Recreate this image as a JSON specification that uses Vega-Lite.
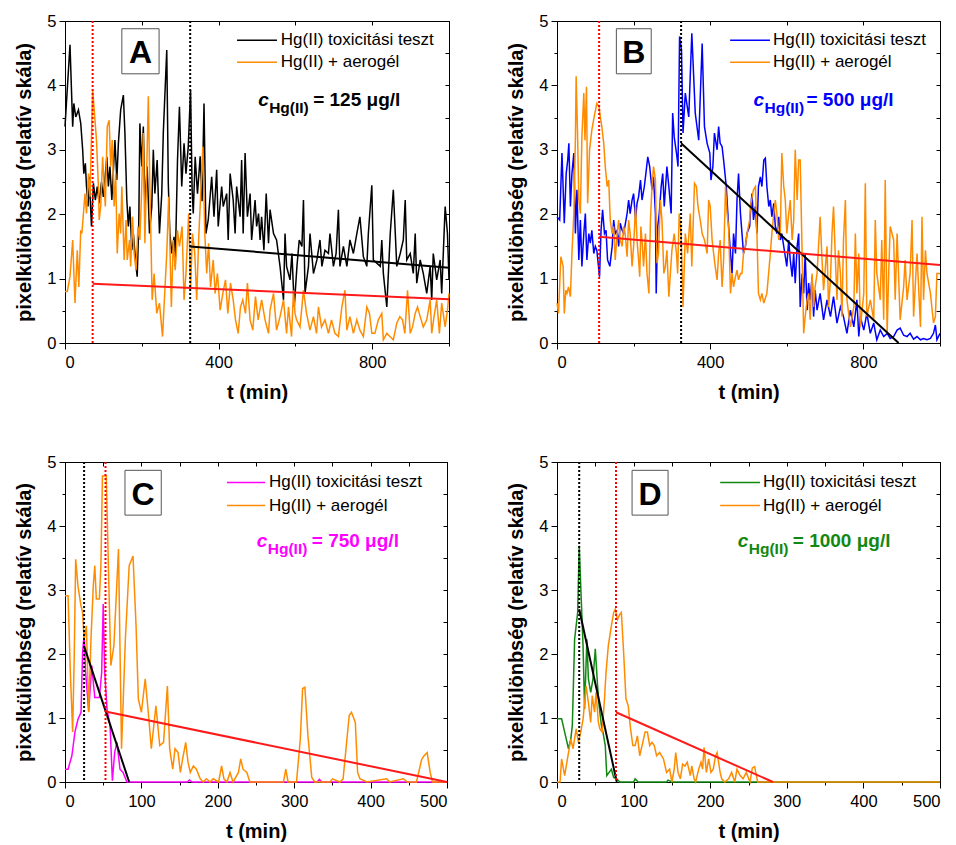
{
"$schema": "https://vega.github.io/schema/vega-lite/v6.json",
"padding": {"left": 14, "top": 12, "right": 0, "bottom": 0},
"background": "white",
"config": {
  "font": "Liberation Sans",
  "view": {"stroke": "black", "strokeWidth": 1},
  "axis": {"domainColor": "black", "tickColor": "black", "labelColor": "black", "titleColor": "black", "labelFont": "Liberation Sans", "labelFontSize": 16.5, "titleFont": "Liberation Sans", "titleFontSize": 20, "titleFontWeight": "bold", "grid": false, "labelPadding": 4},
  "axisX": {"titlePadding": 12, "labelPadding": 5},
  "axisY": {"titlePadding": 12, "labelPadding": 3},
  "text": {"font": "Liberation Sans"}
},
"columns": 2,
"spacing": {"row": 50, "column": 52},
"resolve": {"scale": {"color": "independent"}},
"datasets": {
"A": [
{"t":0,"v":3.36,"s":"a"},{"t":13,"v":4.63,"s":"a"},{"t":20,"v":3.36,"s":"a"},{"t":23,"v":3.72,"s":"a"},{"t":28,"v":3.51,"s":"a"},{"t":35,"v":3.62,"s":"a"},{"t":41,"v":3.41,"s":"a"},{"t":46,"v":3.0,"s":"a"},{"t":49,"v":2.63,"s":"a"},{"t":53,"v":2.79,"s":"a"},{"t":56,"v":2.43,"s":"a"},{"t":60,"v":2.12,"s":"a"},{"t":63,"v":2.58,"s":"a"},{"t":69,"v":1.81,"s":"a"},{"t":74,"v":2.48,"s":"a"},{"t":79,"v":2.22,"s":"a"},{"t":84,"v":2.43,"s":"a"},{"t":89,"v":2.17,"s":"a"},{"t":95,"v":2.5,"s":"a"},{"t":100,"v":2.27,"s":"a"},{"t":109,"v":2.89,"s":"a"},{"t":113,"v":2.43,"s":"a"},{"t":117,"v":2.74,"s":"a"},{"t":122,"v":2.22,"s":"a"},{"t":130,"v":3.15,"s":"a"},{"t":135,"v":2.53,"s":"a"},{"t":139,"v":3.1,"s":"a"},{"t":145,"v":3.62,"s":"a"},{"t":152,"v":3.85,"s":"a"},{"t":156,"v":3.26,"s":"a"},{"t":161,"v":2.22,"s":"a"},{"t":165,"v":1.81,"s":"a"},{"t":169,"v":2.12,"s":"a"},{"t":174,"v":1.44,"s":"a"},{"t":178,"v":1.7,"s":"a"},{"t":185,"v":1.19,"s":"a"},{"t":188,"v":1.03,"s":"a"},{"t":192,"v":1.81,"s":"a"},{"t":195,"v":3.41,"s":"a"},{"t":200,"v":2.74,"s":"a"},{"t":204,"v":3.36,"s":"a"},{"t":208,"v":2.12,"s":"a"},{"t":214,"v":2.74,"s":"a"},{"t":220,"v":1.7,"s":"a"},{"t":226,"v":2.12,"s":"a"},{"t":230,"v":3.0,"s":"a"},{"t":234,"v":2.32,"s":"a"},{"t":240,"v":2.84,"s":"a"},{"t":246,"v":1.7,"s":"a"},{"t":252,"v":2.32,"s":"a"},{"t":256,"v":3.26,"s":"a"},{"t":265,"v":4.55,"s":"a"},{"t":269,"v":2.48,"s":"a"},{"t":273,"v":1.7,"s":"a"},{"t":278,"v":1.39,"s":"a"},{"t":284,"v":1.65,"s":"a"},{"t":287,"v":1.19,"s":"a"},{"t":293,"v":2.84,"s":"a"},{"t":298,"v":3.67,"s":"a"},{"t":304,"v":2.43,"s":"a"},{"t":310,"v":3.1,"s":"a"},{"t":315,"v":2.63,"s":"a"},{"t":321,"v":3.05,"s":"a"},{"t":327,"v":3.93,"s":"a"},{"t":331,"v":2.38,"s":"a"},{"t":334,"v":2.01,"s":"a"},{"t":339,"v":2.89,"s":"a"},{"t":345,"v":2.32,"s":"a"},{"t":352,"v":2.9,"s":"a"},{"t":357,"v":2.2,"s":"a"},{"t":362,"v":3.72,"s":"a"},{"t":367,"v":1.7,"s":"a"},{"t":373,"v":1.91,"s":"a"},{"t":382,"v":2.58,"s":"a"},{"t":388,"v":1.96,"s":"a"},{"t":395,"v":2.69,"s":"a"},{"t":399,"v":1.81,"s":"a"},{"t":408,"v":2.43,"s":"a"},{"t":412,"v":2.12,"s":"a"},{"t":421,"v":2.32,"s":"a"},{"t":425,"v":1.6,"s":"a"},{"t":430,"v":2.63,"s":"a"},{"t":438,"v":2.22,"s":"a"},{"t":443,"v":1.7,"s":"a"},{"t":447,"v":2.43,"s":"a"},{"t":456,"v":1.96,"s":"a"},{"t":460,"v":2.84,"s":"a"},{"t":464,"v":1.7,"s":"a"},{"t":469,"v":2.95,"s":"a"},{"t":475,"v":1.96,"s":"a"},{"t":482,"v":2.32,"s":"a"},{"t":486,"v":1.6,"s":"a"},{"t":495,"v":2.22,"s":"a"},{"t":499,"v":1.81,"s":"a"},{"t":504,"v":2.01,"s":"a"},{"t":508,"v":1.6,"s":"a"},{"t":512,"v":1.96,"s":"a"},{"t":518,"v":1.44,"s":"a"},{"t":524,"v":2.32,"s":"a"},{"t":530,"v":1.55,"s":"a"},{"t":534,"v":2.07,"s":"a"},{"t":543,"v":1.7,"s":"a"},{"t":551,"v":1.6,"s":"a"},{"t":560,"v":1.19,"s":"a"},{"t":569,"v":0.67,"s":"a"},{"t":573,"v":1.7,"s":"a"},{"t":577,"v":1.19,"s":"a"},{"t":586,"v":0.98,"s":"a"},{"t":591,"v":1.39,"s":"a"},{"t":597,"v":0.56,"s":"a"},{"t":604,"v":1.19,"s":"a"},{"t":610,"v":1.6,"s":"a"},{"t":617,"v":1.5,"s":"a"},{"t":621,"v":2.22,"s":"a"},{"t":625,"v":0.77,"s":"a"},{"t":634,"v":1.19,"s":"a"},{"t":638,"v":1.7,"s":"a"},{"t":647,"v":1.08,"s":"a"},{"t":656,"v":1.29,"s":"a"},{"t":664,"v":1.6,"s":"a"},{"t":669,"v":1.19,"s":"a"},{"t":677,"v":1.44,"s":"a"},{"t":686,"v":1.39,"s":"a"},{"t":690,"v":1.7,"s":"a"},{"t":699,"v":1.19,"s":"a"},{"t":706,"v":1.39,"s":"a"},{"t":712,"v":2.07,"s":"a"},{"t":716,"v":1.19,"s":"a"},{"t":725,"v":1.5,"s":"a"},{"t":734,"v":1.19,"s":"a"},{"t":742,"v":1.6,"s":"a"},{"t":751,"v":1.39,"s":"a"},{"t":760,"v":1.7,"s":"a"},{"t":768,"v":1.96,"s":"a"},{"t":777,"v":1.34,"s":"a"},{"t":786,"v":1.19,"s":"a"},{"t":790,"v":1.7,"s":"a"},{"t":799,"v":2.45,"s":"a"},{"t":803,"v":1.29,"s":"a"},{"t":812,"v":1.24,"s":"a"},{"t":821,"v":1.19,"s":"a"},{"t":825,"v":1.6,"s":"a"},{"t":829,"v":1.08,"s":"a"},{"t":838,"v":0.56,"s":"a"},{"t":847,"v":1.7,"s":"a"},{"t":855,"v":2.38,"s":"a"},{"t":864,"v":1.19,"s":"a"},{"t":873,"v":1.39,"s":"a"},{"t":881,"v":1.6,"s":"a"},{"t":886,"v":2.22,"s":"a"},{"t":890,"v":1.29,"s":"a"},{"t":899,"v":1.39,"s":"a"},{"t":907,"v":1.08,"s":"a"},{"t":912,"v":1.7,"s":"a"},{"t":916,"v":0.93,"s":"a"},{"t":925,"v":1.29,"s":"a"},{"t":933,"v":1.08,"s":"a"},{"t":942,"v":0.77,"s":"a"},{"t":951,"v":1.19,"s":"a"},{"t":955,"v":0.67,"s":"a"},{"t":959,"v":1.39,"s":"a"},{"t":968,"v":0.98,"s":"a"},{"t":977,"v":1.29,"s":"a"},{"t":981,"v":0.77,"s":"a"},{"t":990,"v":2.12,"s":"a"},{"t":996,"v":1.7,"s":"a"},{"t":1000,"v":0.98,"s":"a"},
{"t":0,"v":0.8,"s":"b"},{"t":6,"v":0.8,"s":"b"},{"t":13,"v":1.03,"s":"b"},{"t":20,"v":1.6,"s":"b"},{"t":26,"v":0.62,"s":"b"},{"t":32,"v":1.44,"s":"b"},{"t":36,"v":0.87,"s":"b"},{"t":41,"v":1.75,"s":"b"},{"t":44,"v":1.7,"s":"b"},{"t":52,"v":2.32,"s":"b"},{"t":56,"v":2.01,"s":"b"},{"t":61,"v":2.63,"s":"b"},{"t":65,"v":2.27,"s":"b"},{"t":72,"v":3.93,"s":"b"},{"t":76,"v":3.62,"s":"b"},{"t":82,"v":3.15,"s":"b"},{"t":87,"v":2.43,"s":"b"},{"t":89,"v":1.91,"s":"b"},{"t":93,"v":2.12,"s":"b"},{"t":98,"v":2.89,"s":"b"},{"t":102,"v":2.43,"s":"b"},{"t":105,"v":2.12,"s":"b"},{"t":110,"v":3.36,"s":"b"},{"t":115,"v":3.46,"s":"b"},{"t":119,"v":2.74,"s":"b"},{"t":123,"v":3.15,"s":"b"},{"t":128,"v":2.12,"s":"b"},{"t":132,"v":2.63,"s":"b"},{"t":136,"v":1.39,"s":"b"},{"t":141,"v":2.01,"s":"b"},{"t":145,"v":1.7,"s":"b"},{"t":148,"v":2.43,"s":"b"},{"t":154,"v":1.29,"s":"b"},{"t":159,"v":1.91,"s":"b"},{"t":162,"v":1.29,"s":"b"},{"t":168,"v":1.6,"s":"b"},{"t":171,"v":1.19,"s":"b"},{"t":176,"v":1.96,"s":"b"},{"t":180,"v":1.39,"s":"b"},{"t":185,"v":1.13,"s":"b"},{"t":190,"v":1.81,"s":"b"},{"t":195,"v":1.6,"s":"b"},{"t":199,"v":2.27,"s":"b"},{"t":204,"v":3.26,"s":"b"},{"t":208,"v":1.55,"s":"b"},{"t":213,"v":2.74,"s":"b"},{"t":217,"v":3.83,"s":"b"},{"t":221,"v":2.43,"s":"b"},{"t":227,"v":0.67,"s":"b"},{"t":232,"v":1.08,"s":"b"},{"t":239,"v":0.46,"s":"b"},{"t":246,"v":0.62,"s":"b"},{"t":254,"v":0.1,"s":"b"},{"t":260,"v":0.82,"s":"b"},{"t":265,"v":1.39,"s":"b"},{"t":270,"v":2.27,"s":"b"},{"t":277,"v":0.56,"s":"b"},{"t":282,"v":1.6,"s":"b"},{"t":287,"v":1.13,"s":"b"},{"t":293,"v":1.75,"s":"b"},{"t":298,"v":1.5,"s":"b"},{"t":305,"v":1.81,"s":"b"},{"t":310,"v":0.67,"s":"b"},{"t":315,"v":1.08,"s":"b"},{"t":322,"v":2.01,"s":"b"},{"t":327,"v":0.87,"s":"b"},{"t":332,"v":1.7,"s":"b"},{"t":338,"v":1.39,"s":"b"},{"t":343,"v":0.67,"s":"b"},{"t":348,"v":1.6,"s":"b"},{"t":359,"v":3.05,"s":"b"},{"t":364,"v":1.7,"s":"b"},{"t":369,"v":1.08,"s":"b"},{"t":374,"v":1.55,"s":"b"},{"t":379,"v":0.87,"s":"b"},{"t":386,"v":1.29,"s":"b"},{"t":391,"v":0.77,"s":"b"},{"t":397,"v":1.08,"s":"b"},{"t":404,"v":0.51,"s":"b"},{"t":411,"v":0.77,"s":"b"},{"t":418,"v":0.98,"s":"b"},{"t":424,"v":0.46,"s":"b"},{"t":431,"v":0.93,"s":"b"},{"t":438,"v":0.67,"s":"b"},{"t":444,"v":0.36,"s":"b"},{"t":451,"v":0.15,"s":"b"},{"t":457,"v":0.56,"s":"b"},{"t":463,"v":0.67,"s":"b"},{"t":470,"v":0.46,"s":"b"},{"t":475,"v":0.93,"s":"b"},{"t":482,"v":0.36,"s":"b"},{"t":489,"v":0.2,"s":"b"},{"t":496,"v":0.72,"s":"b"},{"t":503,"v":0.36,"s":"b"},{"t":512,"v":0.67,"s":"b"},{"t":521,"v":0.36,"s":"b"},{"t":530,"v":0.15,"s":"b"},{"t":534,"v":0.51,"s":"b"},{"t":543,"v":0.77,"s":"b"},{"t":551,"v":0.2,"s":"b"},{"t":560,"v":0.41,"s":"b"},{"t":569,"v":0.67,"s":"b"},{"t":577,"v":0.15,"s":"b"},{"t":582,"v":0.56,"s":"b"},{"t":590,"v":0.1,"s":"b"},{"t":595,"v":0.82,"s":"b"},{"t":599,"v":0.46,"s":"b"},{"t":603,"v":0.36,"s":"b"},{"t":612,"v":0.25,"s":"b"},{"t":621,"v":0.82,"s":"b"},{"t":629,"v":0.46,"s":"b"},{"t":638,"v":0.2,"s":"b"},{"t":647,"v":0.41,"s":"b"},{"t":655,"v":0.15,"s":"b"},{"t":660,"v":0.56,"s":"b"},{"t":668,"v":0.25,"s":"b"},{"t":677,"v":0.36,"s":"b"},{"t":686,"v":0.15,"s":"b"},{"t":694,"v":0.36,"s":"b"},{"t":703,"v":0.15,"s":"b"},{"t":712,"v":0.1,"s":"b"},{"t":721,"v":0.56,"s":"b"},{"t":729,"v":0.82,"s":"b"},{"t":734,"v":0.2,"s":"b"},{"t":742,"v":0.41,"s":"b"},{"t":751,"v":0.15,"s":"b"},{"t":760,"v":0.36,"s":"b"},{"t":768,"v":0.2,"s":"b"},{"t":777,"v":0.1,"s":"b"},{"t":786,"v":0.56,"s":"b"},{"t":793,"v":0.46,"s":"b"},{"t":799,"v":0.15,"s":"b"},{"t":807,"v":0.15,"s":"b"},{"t":816,"v":0.36,"s":"b"},{"t":825,"v":0.46,"s":"b"},{"t":829,"v":0.05,"s":"b"},{"t":838,"v":0.15,"s":"b"},{"t":846,"v":0.1,"s":"b"},{"t":855,"v":0.05,"s":"b"},{"t":864,"v":0.31,"s":"b"},{"t":872,"v":0.41,"s":"b"},{"t":879,"v":0.36,"s":"b"},{"t":885,"v":0.15,"s":"b"},{"t":892,"v":0.82,"s":"b"},{"t":899,"v":0.15,"s":"b"},{"t":905,"v":0.25,"s":"b"},{"t":912,"v":0.46,"s":"b"},{"t":918,"v":0.56,"s":"b"},{"t":925,"v":0.41,"s":"b"},{"t":933,"v":0.25,"s":"b"},{"t":942,"v":0.36,"s":"b"},{"t":951,"v":0.67,"s":"b"},{"t":955,"v":0.15,"s":"b"},{"t":961,"v":0.41,"s":"b"},{"t":968,"v":0.67,"s":"b"},{"t":975,"v":0.15,"s":"b"},{"t":981,"v":0.62,"s":"b"},{"t":990,"v":0.25,"s":"b"},{"t":996,"v":0.51,"s":"b"},{"t":1000,"v":0.77,"s":"b"}
],
"B": [
{"t":0,"v":1.96,"s":"a"},{"t":7,"v":1.91,"s":"a"},{"t":13,"v":2.95,"s":"a"},{"t":19,"v":1.86,"s":"a"},{"t":24,"v":2.63,"s":"a"},{"t":28,"v":2.84,"s":"a"},{"t":31,"v":3.1,"s":"a"},{"t":35,"v":2.12,"s":"a"},{"t":39,"v":2.63,"s":"a"},{"t":44,"v":2.95,"s":"a"},{"t":48,"v":1.7,"s":"a"},{"t":52,"v":2.38,"s":"a"},{"t":57,"v":1.29,"s":"a"},{"t":61,"v":1.91,"s":"a"},{"t":65,"v":1.19,"s":"a"},{"t":70,"v":1.7,"s":"a"},{"t":74,"v":2.01,"s":"a"},{"t":78,"v":1.29,"s":"a"},{"t":83,"v":1.7,"s":"a"},{"t":87,"v":1.55,"s":"a"},{"t":91,"v":1.75,"s":"a"},{"t":96,"v":1.39,"s":"a"},{"t":100,"v":1.5,"s":"a"},{"t":104,"v":1.44,"s":"a"},{"t":111,"v":1.03,"s":"a"},{"t":115,"v":1.75,"s":"a"},{"t":119,"v":2.07,"s":"a"},{"t":124,"v":1.7,"s":"a"},{"t":128,"v":1.75,"s":"a"},{"t":132,"v":1.29,"s":"a"},{"t":138,"v":1.19,"s":"a"},{"t":144,"v":1.5,"s":"a"},{"t":148,"v":1.91,"s":"a"},{"t":152,"v":1.7,"s":"a"},{"t":157,"v":1.75,"s":"a"},{"t":161,"v":1.5,"s":"a"},{"t":165,"v":1.86,"s":"a"},{"t":170,"v":1.75,"s":"a"},{"t":174,"v":1.7,"s":"a"},{"t":183,"v":2.01,"s":"a"},{"t":187,"v":2.22,"s":"a"},{"t":191,"v":2.01,"s":"a"},{"t":196,"v":2.22,"s":"a"},{"t":200,"v":2.32,"s":"a"},{"t":205,"v":1.91,"s":"a"},{"t":209,"v":2.17,"s":"a"},{"t":213,"v":2.27,"s":"a"},{"t":218,"v":2.53,"s":"a"},{"t":222,"v":2.22,"s":"a"},{"t":228,"v":2.43,"s":"a"},{"t":232,"v":2.63,"s":"a"},{"t":237,"v":2.89,"s":"a"},{"t":242,"v":2.74,"s":"a"},{"t":248,"v":2.38,"s":"a"},{"t":252,"v":2.58,"s":"a"},{"t":257,"v":2.01,"s":"a"},{"t":259,"v":0.77,"s":"a"},{"t":263,"v":1.81,"s":"a"},{"t":267,"v":2.01,"s":"a"},{"t":272,"v":2.43,"s":"a"},{"t":276,"v":2.63,"s":"a"},{"t":280,"v":2.12,"s":"a"},{"t":287,"v":2.74,"s":"a"},{"t":292,"v":2.43,"s":"a"},{"t":298,"v":2.01,"s":"a"},{"t":302,"v":3.57,"s":"a"},{"t":306,"v":3.2,"s":"a"},{"t":312,"v":2.95,"s":"a"},{"t":316,"v":2.74,"s":"a"},{"t":320,"v":4.76,"s":"a"},{"t":325,"v":4.55,"s":"a"},{"t":329,"v":3.26,"s":"a"},{"t":335,"v":3.88,"s":"a"},{"t":344,"v":3.51,"s":"a"},{"t":352,"v":4.81,"s":"a"},{"t":361,"v":3.57,"s":"a"},{"t":370,"v":3.15,"s":"a"},{"t":379,"v":4.65,"s":"a"},{"t":385,"v":3.36,"s":"a"},{"t":392,"v":3.1,"s":"a"},{"t":399,"v":2.95,"s":"a"},{"t":402,"v":2.53,"s":"a"},{"t":407,"v":2.74,"s":"a"},{"t":411,"v":3.26,"s":"a"},{"t":418,"v":3.0,"s":"a"},{"t":422,"v":3.36,"s":"a"},{"t":426,"v":3.1,"s":"a"},{"t":431,"v":3.05,"s":"a"},{"t":435,"v":2.84,"s":"a"},{"t":442,"v":2.43,"s":"a"},{"t":448,"v":1.81,"s":"a"},{"t":453,"v":1.39,"s":"a"},{"t":457,"v":1.08,"s":"a"},{"t":461,"v":1.7,"s":"a"},{"t":466,"v":1.39,"s":"a"},{"t":470,"v":2.22,"s":"a"},{"t":474,"v":2.63,"s":"a"},{"t":479,"v":2.01,"s":"a"},{"t":483,"v":1.7,"s":"a"},{"t":487,"v":1.39,"s":"a"},{"t":492,"v":1.5,"s":"a"},{"t":496,"v":1.7,"s":"a"},{"t":503,"v":1.81,"s":"a"},{"t":505,"v":2.01,"s":"a"},{"t":509,"v":2.32,"s":"a"},{"t":513,"v":1.91,"s":"a"},{"t":518,"v":2.12,"s":"a"},{"t":522,"v":1.7,"s":"a"},{"t":526,"v":2.43,"s":"a"},{"t":531,"v":2.58,"s":"a"},{"t":535,"v":2.43,"s":"a"},{"t":540,"v":2.84,"s":"a"},{"t":544,"v":2.87,"s":"a"},{"t":548,"v":2.43,"s":"a"},{"t":553,"v":2.12,"s":"a"},{"t":557,"v":2.22,"s":"a"},{"t":561,"v":1.96,"s":"a"},{"t":566,"v":2.17,"s":"a"},{"t":570,"v":1.81,"s":"a"},{"t":574,"v":1.7,"s":"a"},{"t":579,"v":1.96,"s":"a"},{"t":583,"v":1.6,"s":"a"},{"t":587,"v":1.7,"s":"a"},{"t":592,"v":1.5,"s":"a"},{"t":600,"v":1.19,"s":"a"},{"t":605,"v":1.6,"s":"a"},{"t":609,"v":1.29,"s":"a"},{"t":614,"v":1.03,"s":"a"},{"t":618,"v":1.39,"s":"a"},{"t":622,"v":0.93,"s":"a"},{"t":627,"v":1.5,"s":"a"},{"t":631,"v":1.7,"s":"a"},{"t":635,"v":0.56,"s":"a"},{"t":640,"v":1.08,"s":"a"},{"t":644,"v":0.77,"s":"a"},{"t":648,"v":1.39,"s":"a"},{"t":653,"v":0.51,"s":"a"},{"t":657,"v":0.93,"s":"a"},{"t":661,"v":0.67,"s":"a"},{"t":666,"v":1.03,"s":"a"},{"t":670,"v":0.41,"s":"a"},{"t":674,"v":0.82,"s":"a"},{"t":679,"v":0.51,"s":"a"},{"t":687,"v":0.77,"s":"a"},{"t":696,"v":0.36,"s":"a"},{"t":705,"v":0.67,"s":"a"},{"t":714,"v":0.41,"s":"a"},{"t":722,"v":0.72,"s":"a"},{"t":731,"v":0.31,"s":"a"},{"t":740,"v":0.56,"s":"a"},{"t":748,"v":0.41,"s":"a"},{"t":757,"v":0.15,"s":"a"},{"t":766,"v":0.51,"s":"a"},{"t":775,"v":0.25,"s":"a"},{"t":783,"v":0.67,"s":"a"},{"t":788,"v":0.1,"s":"a"},{"t":792,"v":0.41,"s":"a"},{"t":801,"v":0.2,"s":"a"},{"t":809,"v":0.46,"s":"a"},{"t":818,"v":0.15,"s":"a"},{"t":827,"v":0.31,"s":"a"},{"t":835,"v":0.05,"s":"a"},{"t":844,"v":0.2,"s":"a"},{"t":853,"v":0.1,"s":"a"},{"t":862,"v":0.15,"s":"a"},{"t":870,"v":0.07,"s":"a"},{"t":879,"v":0.1,"s":"a"},{"t":888,"v":0.2,"s":"a"},{"t":896,"v":0.23,"s":"a"},{"t":905,"v":0.12,"s":"a"},{"t":914,"v":0.1,"s":"a"},{"t":922,"v":0.15,"s":"a"},{"t":931,"v":0.06,"s":"a"},{"t":940,"v":0.1,"s":"a"},{"t":949,"v":0.05,"s":"a"},{"t":957,"v":0.07,"s":"a"},{"t":966,"v":0.05,"s":"a"},{"t":975,"v":0.07,"s":"a"},{"t":983,"v":0.15,"s":"a"},{"t":988,"v":0.28,"s":"a"},{"t":992,"v":0.05,"s":"a"},{"t":1000,"v":0.15,"s":"a"},
{"t":0,"v":0.62,"s":"b"},{"t":4,"v":0.46,"s":"b"},{"t":10,"v":1.34,"s":"b"},{"t":16,"v":1.19,"s":"b"},{"t":19,"v":0.46,"s":"b"},{"t":23,"v":0.82,"s":"b"},{"t":26,"v":0.77,"s":"b"},{"t":30,"v":0.87,"s":"b"},{"t":35,"v":0.72,"s":"b"},{"t":39,"v":1.39,"s":"b"},{"t":44,"v":2.01,"s":"b"},{"t":48,"v":3.15,"s":"b"},{"t":50,"v":4.14,"s":"b"},{"t":54,"v":3.15,"s":"b"},{"t":57,"v":2.22,"s":"b"},{"t":61,"v":2.01,"s":"b"},{"t":65,"v":3.2,"s":"b"},{"t":70,"v":3.88,"s":"b"},{"t":73,"v":3.15,"s":"b"},{"t":77,"v":3.98,"s":"b"},{"t":80,"v":2.17,"s":"b"},{"t":85,"v":3.0,"s":"b"},{"t":91,"v":3.31,"s":"b"},{"t":97,"v":3.51,"s":"b"},{"t":104,"v":3.72,"s":"b"},{"t":110,"v":3.67,"s":"b"},{"t":113,"v":3.51,"s":"b"},{"t":117,"v":3.36,"s":"b"},{"t":122,"v":3.1,"s":"b"},{"t":126,"v":2.74,"s":"b"},{"t":131,"v":2.43,"s":"b"},{"t":135,"v":2.53,"s":"b"},{"t":139,"v":1.91,"s":"b"},{"t":144,"v":1.7,"s":"b"},{"t":148,"v":1.81,"s":"b"},{"t":152,"v":1.29,"s":"b"},{"t":157,"v":1.7,"s":"b"},{"t":161,"v":1.91,"s":"b"},{"t":165,"v":1.6,"s":"b"},{"t":170,"v":1.5,"s":"b"},{"t":174,"v":1.81,"s":"b"},{"t":178,"v":1.7,"s":"b"},{"t":183,"v":1.34,"s":"b"},{"t":187,"v":1.91,"s":"b"},{"t":191,"v":1.7,"s":"b"},{"t":196,"v":1.19,"s":"b"},{"t":200,"v":1.5,"s":"b"},{"t":205,"v":2.12,"s":"b"},{"t":209,"v":1.6,"s":"b"},{"t":213,"v":1.29,"s":"b"},{"t":216,"v":1.03,"s":"b"},{"t":219,"v":1.81,"s":"b"},{"t":223,"v":1.5,"s":"b"},{"t":226,"v":1.19,"s":"b"},{"t":231,"v":1.7,"s":"b"},{"t":235,"v":1.08,"s":"b"},{"t":240,"v":0.77,"s":"b"},{"t":244,"v":1.91,"s":"b"},{"t":248,"v":2.43,"s":"b"},{"t":252,"v":2.74,"s":"b"},{"t":257,"v":2.53,"s":"b"},{"t":261,"v":1.24,"s":"b"},{"t":265,"v":1.39,"s":"b"},{"t":270,"v":2.22,"s":"b"},{"t":274,"v":1.91,"s":"b"},{"t":279,"v":1.08,"s":"b"},{"t":283,"v":1.19,"s":"b"},{"t":287,"v":1.44,"s":"b"},{"t":292,"v":0.72,"s":"b"},{"t":296,"v":1.08,"s":"b"},{"t":300,"v":1.44,"s":"b"},{"t":306,"v":1.7,"s":"b"},{"t":312,"v":1.39,"s":"b"},{"t":315,"v":1.08,"s":"b"},{"t":319,"v":2.01,"s":"b"},{"t":324,"v":1.7,"s":"b"},{"t":329,"v":0.56,"s":"b"},{"t":335,"v":1.7,"s":"b"},{"t":341,"v":1.39,"s":"b"},{"t":348,"v":2.01,"s":"b"},{"t":352,"v":1.19,"s":"b"},{"t":359,"v":2.48,"s":"b"},{"t":364,"v":2.43,"s":"b"},{"t":368,"v":2.12,"s":"b"},{"t":374,"v":1.91,"s":"b"},{"t":379,"v":1.7,"s":"b"},{"t":385,"v":1.6,"s":"b"},{"t":392,"v":1.39,"s":"b"},{"t":396,"v":2.22,"s":"b"},{"t":400,"v":2.12,"s":"b"},{"t":405,"v":1.6,"s":"b"},{"t":409,"v":1.39,"s":"b"},{"t":413,"v":1.19,"s":"b"},{"t":418,"v":0.98,"s":"b"},{"t":422,"v":1.39,"s":"b"},{"t":426,"v":1.6,"s":"b"},{"t":431,"v":0.87,"s":"b"},{"t":435,"v":1.29,"s":"b"},{"t":440,"v":2.43,"s":"b"},{"t":444,"v":2.01,"s":"b"},{"t":448,"v":1.81,"s":"b"},{"t":453,"v":0.77,"s":"b"},{"t":457,"v":1.08,"s":"b"},{"t":461,"v":0.87,"s":"b"},{"t":466,"v":1.03,"s":"b"},{"t":470,"v":1.13,"s":"b"},{"t":474,"v":0.98,"s":"b"},{"t":479,"v":1.08,"s":"b"},{"t":483,"v":1.08,"s":"b"},{"t":487,"v":1.39,"s":"b"},{"t":492,"v":1.5,"s":"b"},{"t":496,"v":1.7,"s":"b"},{"t":503,"v":1.91,"s":"b"},{"t":505,"v":2.12,"s":"b"},{"t":513,"v":2.38,"s":"b"},{"t":518,"v":2.43,"s":"b"},{"t":522,"v":1.7,"s":"b"},{"t":526,"v":0.77,"s":"b"},{"t":531,"v":0.67,"s":"b"},{"t":535,"v":0.77,"s":"b"},{"t":540,"v":0.62,"s":"b"},{"t":548,"v":0.77,"s":"b"},{"t":557,"v":1.39,"s":"b"},{"t":561,"v":1.7,"s":"b"},{"t":566,"v":2.01,"s":"b"},{"t":570,"v":2.22,"s":"b"},{"t":574,"v":2.01,"s":"b"},{"t":579,"v":1.6,"s":"b"},{"t":583,"v":1.7,"s":"b"},{"t":587,"v":2.95,"s":"b"},{"t":592,"v":2.43,"s":"b"},{"t":596,"v":2.22,"s":"b"},{"t":600,"v":1.7,"s":"b"},{"t":605,"v":2.01,"s":"b"},{"t":609,"v":2.22,"s":"b"},{"t":614,"v":1.6,"s":"b"},{"t":618,"v":1.91,"s":"b"},{"t":622,"v":3.0,"s":"b"},{"t":627,"v":2.22,"s":"b"},{"t":631,"v":2.84,"s":"b"},{"t":635,"v":2.84,"s":"b"},{"t":640,"v":1.39,"s":"b"},{"t":644,"v":0.15,"s":"b"},{"t":648,"v":0.41,"s":"b"},{"t":653,"v":0.67,"s":"b"},{"t":657,"v":0.77,"s":"b"},{"t":661,"v":0.36,"s":"b"},{"t":666,"v":1.08,"s":"b"},{"t":670,"v":0.56,"s":"b"},{"t":674,"v":0.87,"s":"b"},{"t":679,"v":1.08,"s":"b"},{"t":687,"v":1.96,"s":"b"},{"t":692,"v":1.29,"s":"b"},{"t":696,"v":0.82,"s":"b"},{"t":701,"v":1.19,"s":"b"},{"t":705,"v":1.5,"s":"b"},{"t":709,"v":0.56,"s":"b"},{"t":714,"v":0.98,"s":"b"},{"t":718,"v":1.7,"s":"b"},{"t":722,"v":2.12,"s":"b"},{"t":727,"v":1.29,"s":"b"},{"t":731,"v":0.67,"s":"b"},{"t":735,"v":1.44,"s":"b"},{"t":740,"v":1.08,"s":"b"},{"t":744,"v":0.41,"s":"b"},{"t":748,"v":1.6,"s":"b"},{"t":753,"v":2.22,"s":"b"},{"t":757,"v":0.67,"s":"b"},{"t":766,"v":0.25,"s":"b"},{"t":775,"v":0.56,"s":"b"},{"t":779,"v":1.7,"s":"b"},{"t":783,"v":0.77,"s":"b"},{"t":788,"v":1.39,"s":"b"},{"t":792,"v":0.25,"s":"b"},{"t":801,"v":0.77,"s":"b"},{"t":805,"v":2.48,"s":"b"},{"t":809,"v":0.41,"s":"b"},{"t":818,"v":0.67,"s":"b"},{"t":827,"v":0.36,"s":"b"},{"t":831,"v":1.91,"s":"b"},{"t":835,"v":1.08,"s":"b"},{"t":844,"v":0.67,"s":"b"},{"t":848,"v":1.6,"s":"b"},{"t":853,"v":0.36,"s":"b"},{"t":857,"v":2.53,"s":"b"},{"t":862,"v":0.15,"s":"b"},{"t":866,"v":1.08,"s":"b"},{"t":870,"v":1.81,"s":"b"},{"t":879,"v":1.6,"s":"b"},{"t":883,"v":0.67,"s":"b"},{"t":888,"v":1.7,"s":"b"},{"t":896,"v":0.36,"s":"b"},{"t":905,"v":0.87,"s":"b"},{"t":909,"v":1.29,"s":"b"},{"t":914,"v":0.67,"s":"b"},{"t":922,"v":1.08,"s":"b"},{"t":927,"v":1.91,"s":"b"},{"t":931,"v":0.41,"s":"b"},{"t":940,"v":1.39,"s":"b"},{"t":949,"v":0.25,"s":"b"},{"t":953,"v":1.96,"s":"b"},{"t":957,"v":0.67,"s":"b"},{"t":962,"v":1.44,"s":"b"},{"t":966,"v":1.08,"s":"b"},{"t":975,"v":0.77,"s":"b"},{"t":983,"v":0.31,"s":"b"},{"t":988,"v":0.41,"s":"b"},{"t":992,"v":1.08,"s":"b"},{"t":1000,"v":1.08,"s":"b"}
],
"C": [
{"t":0,"v":0.2,"s":"a"},{"t":4,"v":0.2,"s":"a"},{"t":9,"v":0.41,"s":"a"},{"t":13,"v":0.78,"s":"a"},{"t":17,"v":0.98,"s":"a"},{"t":21,"v":1.09,"s":"a"},{"t":23,"v":2.02,"s":"a"},{"t":25,"v":2.3,"s":"a"},{"t":27,"v":1.71,"s":"a"},{"t":31,"v":1.11,"s":"a"},{"t":35,"v":1.82,"s":"a"},{"t":39,"v":1.32,"s":"a"},{"t":45,"v":1.32,"s":"a"},{"t":48,"v":1.71,"s":"a"},{"t":50,"v":2.78,"s":"a"},{"t":52,"v":1.71,"s":"a"},{"t":55,"v":1.14,"s":"a"},{"t":59,"v":0.88,"s":"a"},{"t":62,"v":0.02,"s":"a"},{"t":65,"v":0.46,"s":"a"},{"t":68,"v":0.62,"s":"a"},{"t":72,"v":0.2,"s":"a"},{"t":76,"v":0.15,"s":"a"},{"t":81,"v":0,"s":"a"},{"t":160,"v":0,"s":"a"},{"t":163,"v":0.03,"s":"a"},{"t":166,"v":0,"s":"a"},{"t":330,"v":0,"s":"a"},{"t":333,"v":0.04,"s":"a"},{"t":336,"v":0,"s":"a"},{"t":500,"v":0,"s":"a"},
{"t":0,"v":2.91,"s":"b"},{"t":4,"v":2.91,"s":"b"},{"t":7,"v":1.71,"s":"b"},{"t":10,"v":0.78,"s":"b"},{"t":12,"v":1.92,"s":"b"},{"t":14,"v":3.48,"s":"b"},{"t":17,"v":3.06,"s":"b"},{"t":21,"v":2.75,"s":"b"},{"t":23,"v":2.65,"s":"b"},{"t":25,"v":2.23,"s":"b"},{"t":28,"v":2.44,"s":"b"},{"t":31,"v":1.09,"s":"b"},{"t":34,"v":2.23,"s":"b"},{"t":37,"v":3.06,"s":"b"},{"t":39,"v":3.38,"s":"b"},{"t":41,"v":2.86,"s":"b"},{"t":45,"v":2.86,"s":"b"},{"t":47,"v":3.38,"s":"b"},{"t":49,"v":4.78,"s":"b"},{"t":54,"v":4.78,"s":"b"},{"t":57,"v":3.27,"s":"b"},{"t":60,"v":1.82,"s":"b"},{"t":64,"v":2.13,"s":"b"},{"t":70,"v":3.64,"s":"b"},{"t":74,"v":0.52,"s":"b"},{"t":79,"v":2.23,"s":"b"},{"t":84,"v":3.38,"s":"b"},{"t":89,"v":3.53,"s":"b"},{"t":93,"v":2.44,"s":"b"},{"t":96,"v":1.3,"s":"b"},{"t":100,"v":1.09,"s":"b"},{"t":105,"v":1.61,"s":"b"},{"t":109,"v":1.09,"s":"b"},{"t":113,"v":0.52,"s":"b"},{"t":119,"v":1.19,"s":"b"},{"t":124,"v":0.57,"s":"b"},{"t":129,"v":0.62,"s":"b"},{"t":134,"v":1.5,"s":"b"},{"t":137,"v":0.52,"s":"b"},{"t":141,"v":0.2,"s":"b"},{"t":144,"v":0.52,"s":"b"},{"t":148,"v":0.46,"s":"b"},{"t":151,"v":0.15,"s":"b"},{"t":154,"v":0.36,"s":"b"},{"t":158,"v":0.62,"s":"b"},{"t":161,"v":0.31,"s":"b"},{"t":164,"v":0.15,"s":"b"},{"t":168,"v":0.25,"s":"b"},{"t":172,"v":0.2,"s":"b"},{"t":177,"v":0.05,"s":"b"},{"t":181,"v":0,"s":"b"},{"t":185,"v":0.05,"s":"b"},{"t":190,"v":0,"s":"b"},{"t":194,"v":0.05,"s":"b"},{"t":201,"v":0,"s":"b"},{"t":205,"v":0.25,"s":"b"},{"t":208,"v":0.05,"s":"b"},{"t":212,"v":0,"s":"b"},{"t":216,"v":0.15,"s":"b"},{"t":220,"v":0,"s":"b"},{"t":227,"v":0.15,"s":"b"},{"t":230,"v":0.36,"s":"b"},{"t":233,"v":0.2,"s":"b"},{"t":238,"v":0.15,"s":"b"},{"t":242,"v":0,"s":"b"},{"t":286,"v":0,"s":"b"},{"t":289,"v":0.2,"s":"b"},{"t":292,"v":0,"s":"b"},{"t":303,"v":0,"s":"b"},{"t":308,"v":0.67,"s":"b"},{"t":311,"v":1.46,"s":"b"},{"t":314,"v":1.48,"s":"b"},{"t":318,"v":0.72,"s":"b"},{"t":323,"v":0.07,"s":"b"},{"t":327,"v":0,"s":"b"},{"t":347,"v":0,"s":"b"},{"t":350,"v":0.05,"s":"b"},{"t":360,"v":0,"s":"b"},{"t":364,"v":0.05,"s":"b"},{"t":369,"v":0.67,"s":"b"},{"t":372,"v":1.04,"s":"b"},{"t":375,"v":1.09,"s":"b"},{"t":380,"v":0.93,"s":"b"},{"t":383,"v":0.15,"s":"b"},{"t":386,"v":0.05,"s":"b"},{"t":395,"v":0,"s":"b"},{"t":421,"v":0.05,"s":"b"},{"t":425,"v":0,"s":"b"},{"t":443,"v":0.05,"s":"b"},{"t":448,"v":0,"s":"b"},{"t":460,"v":0,"s":"b"},{"t":467,"v":0.36,"s":"b"},{"t":470,"v":0.41,"s":"b"},{"t":474,"v":0.46,"s":"b"},{"t":478,"v":0.15,"s":"b"},{"t":481,"v":0,"s":"b"},{"t":500,"v":0,"s":"b"}
],
"D": [
{"t":0,"v":0.99,"s":"a"},{"t":6,"v":0.99,"s":"a"},{"t":10,"v":0.78,"s":"a"},{"t":15,"v":0.52,"s":"a"},{"t":18,"v":0.67,"s":"a"},{"t":20,"v":0.88,"s":"a"},{"t":23,"v":2.23,"s":"a"},{"t":27,"v":2.65,"s":"a"},{"t":29,"v":3.69,"s":"a"},{"t":31,"v":3.06,"s":"a"},{"t":34,"v":2.13,"s":"a"},{"t":36,"v":1.14,"s":"a"},{"t":39,"v":2.23,"s":"a"},{"t":41,"v":1.61,"s":"a"},{"t":44,"v":1.4,"s":"a"},{"t":47,"v":1.61,"s":"a"},{"t":50,"v":2.08,"s":"a"},{"t":53,"v":1.5,"s":"a"},{"t":55,"v":1.19,"s":"a"},{"t":58,"v":0.88,"s":"a"},{"t":60,"v":0.78,"s":"a"},{"t":63,"v":0.57,"s":"a"},{"t":65,"v":0.1,"s":"a"},{"t":68,"v":0.15,"s":"a"},{"t":71,"v":0.2,"s":"a"},{"t":74,"v":0.07,"s":"a"},{"t":78,"v":0.05,"s":"a"},{"t":82,"v":0,"s":"a"},{"t":100,"v":0,"s":"a"},{"t":102,"v":0.05,"s":"a"},{"t":106,"v":0,"s":"a"},{"t":143,"v":0,"s":"a"},{"t":145,"v":0.03,"s":"a"},{"t":150,"v":0,"s":"a"},{"t":500,"v":0,"s":"a"},
{"t":0,"v":0,"s":"b"},{"t":4,"v":0,"s":"b"},{"t":6,"v":0.36,"s":"b"},{"t":10,"v":0.1,"s":"b"},{"t":15,"v":0.46,"s":"b"},{"t":18,"v":0.67,"s":"b"},{"t":21,"v":0.52,"s":"b"},{"t":25,"v":0.83,"s":"b"},{"t":28,"v":0.62,"s":"b"},{"t":31,"v":0.78,"s":"b"},{"t":34,"v":0.98,"s":"b"},{"t":38,"v":1.5,"s":"b"},{"t":41,"v":1.24,"s":"b"},{"t":44,"v":0.93,"s":"b"},{"t":46,"v":1.35,"s":"b"},{"t":49,"v":1.09,"s":"b"},{"t":51,"v":1.4,"s":"b"},{"t":54,"v":0.93,"s":"b"},{"t":56,"v":0.83,"s":"b"},{"t":59,"v":0.78,"s":"b"},{"t":62,"v":1.3,"s":"b"},{"t":64,"v":1.71,"s":"b"},{"t":67,"v":2.13,"s":"b"},{"t":71,"v":2.44,"s":"b"},{"t":74,"v":2.65,"s":"b"},{"t":76,"v":2.7,"s":"b"},{"t":79,"v":2.54,"s":"b"},{"t":82,"v":2.62,"s":"b"},{"t":84,"v":2.65,"s":"b"},{"t":87,"v":2.02,"s":"b"},{"t":90,"v":1.3,"s":"b"},{"t":93,"v":1.19,"s":"b"},{"t":96,"v":0.83,"s":"b"},{"t":99,"v":0.57,"s":"b"},{"t":102,"v":0.57,"s":"b"},{"t":105,"v":0.72,"s":"b"},{"t":108,"v":0.41,"s":"b"},{"t":112,"v":0.62,"s":"b"},{"t":115,"v":0.78,"s":"b"},{"t":118,"v":0.78,"s":"b"},{"t":121,"v":0.57,"s":"b"},{"t":124,"v":0.62,"s":"b"},{"t":127,"v":0.57,"s":"b"},{"t":130,"v":0.41,"s":"b"},{"t":134,"v":0.46,"s":"b"},{"t":139,"v":0.36,"s":"b"},{"t":143,"v":0.15,"s":"b"},{"t":147,"v":0.2,"s":"b"},{"t":150,"v":0,"s":"b"},{"t":153,"v":0.2,"s":"b"},{"t":155,"v":0.46,"s":"b"},{"t":158,"v":0.15,"s":"b"},{"t":161,"v":0.05,"s":"b"},{"t":164,"v":0.28,"s":"b"},{"t":167,"v":0.25,"s":"b"},{"t":170,"v":0.31,"s":"b"},{"t":174,"v":0.1,"s":"b"},{"t":176,"v":0.25,"s":"b"},{"t":179,"v":0.05,"s":"b"},{"t":181,"v":0,"s":"b"},{"t":185,"v":0.2,"s":"b"},{"t":188,"v":0.31,"s":"b"},{"t":190,"v":0.2,"s":"b"},{"t":192,"v":0.54,"s":"b"},{"t":195,"v":0.15,"s":"b"},{"t":198,"v":0.36,"s":"b"},{"t":201,"v":0.15,"s":"b"},{"t":204,"v":0.2,"s":"b"},{"t":207,"v":0.41,"s":"b"},{"t":209,"v":0.46,"s":"b"},{"t":213,"v":0.15,"s":"b"},{"t":215,"v":0.05,"s":"b"},{"t":219,"v":0,"s":"b"},{"t":224,"v":0.05,"s":"b"},{"t":228,"v":0.15,"s":"b"},{"t":232,"v":0,"s":"b"},{"t":235,"v":0.2,"s":"b"},{"t":239,"v":0.1,"s":"b"},{"t":243,"v":0.05,"s":"b"},{"t":247,"v":0.15,"s":"b"},{"t":252,"v":0,"s":"b"},{"t":255,"v":0.22,"s":"b"},{"t":258,"v":0.24,"s":"b"},{"t":262,"v":0,"s":"b"},{"t":500,"v":0,"s":"b"}
]
},
"concat": [
{
 "width": 384, "height": 322,
 "resolve": {"axis": {"x": "independent", "y": "independent"}},
 "layer": [
  {"data": {"name": "A"}, "mark": {"type": "line", "strokeWidth": 1.5},
   "encoding": {
    "x": {"field": "t", "type": "quantitative", "scale": {"domain": [0, 1000], "nice": false, "zero": false}, "axis": {"values": [0,200,400,600,800,1000], "labelExpr": "datum.value % 400 === 0 ? format(datum.value, 'd') : ''", "tickSize": {"condition": {"test": "datum.value % 400 === 0", "value": 6}, "value": 3}, "title": "t (min)"}},
    "y": {"field": "v", "type": "quantitative", "scale": {"domain": [0, 5], "nice": false}, "axis": {"values": [0,0.5,1,1.5,2,2.5,3,3.5,4,4.5,5], "labelExpr": "datum.value % 1 === 0 ? format(datum.value, 'd') : ''", "tickSize": {"condition": {"test": "datum.value % 1 === 0", "value": 6}, "value": 3}, "title": "pixelkülönbség (relatív skála)"}},
    "color": {"field": "s", "type": "nominal", "scale": {"domain": ["a", "b"], "range": ["#000000", "#FF8C00"]}, "legend": null}
   }},
  {"data": {"values": [{"t": 326, "v": 1.5, "g": "k"}, {"t": 1000, "v": 1.17, "g": "k"}, {"t": 72, "v": 0.92, "g": "r"}, {"t": 1000, "v": 0.68, "g": "r"}]},
   "mark": {"type": "line", "strokeWidth": 2},
   "encoding": {"x": {"field": "t", "type": "quantitative", "axis": null}, "y": {"field": "v", "type": "quantitative", "axis": null}, "detail": {"field": "g"}, "color": {"condition": {"test": "datum.g === 'k'", "value": "#000000"}, "value": "#FF1A1A"}}},
  {"data": {"values": [{"t": 72, "g": "r"}, {"t": 326, "g": "k"}]},
   "mark": {"type": "rule", "strokeDash": [2, 2], "strokeWidth": 2},
   "encoding": {"x": {"field": "t", "type": "quantitative", "axis": null}, "color": {"condition": {"test": "datum.g === 'k'", "value": "#000000"}, "value": "#FF0000"}}},
  {"data": {"values": [{}]}, "mark": {"type": "rect", "fill": "white", "stroke": "#555555", "strokeWidth": 1},
   "encoding": {"x": {"datum": 148, "type": "quantitative", "axis": null}, "x2": {"datum": 245}, "y": {"datum": 4.18, "type": "quantitative", "axis": null}, "y2": {"datum": 4.88}}},
  {"data": {"values": [{}]}, "mark": {"type": "text", "text": "A", "fontSize": 32, "fontWeight": "bold", "align": "center", "baseline": "middle", "dy": 2, "color": "black"},
   "encoding": {"x": {"datum": 196.5, "type": "quantitative", "axis": null}, "y": {"datum": 4.53, "type": "quantitative", "axis": null}}},
  {"data": {"values": [{}]}, "mark": {"type": "rule", "strokeWidth": 1.5, "color": "#000000"},
   "encoding": {"x": {"datum": 448, "type": "quantitative", "axis": null}, "x2": {"datum": 552}, "y": {"datum": 4.7, "type": "quantitative", "axis": null}}},
  {"data": {"values": [{}]}, "mark": {"type": "rule", "strokeWidth": 1.5, "color": "#FF8C00"},
   "encoding": {"x": {"datum": 448, "type": "quantitative", "axis": null}, "x2": {"datum": 552}, "y": {"datum": 4.36, "type": "quantitative", "axis": null}}},
  {"data": {"values": [{}]}, "mark": {"type": "text", "text": "Hg(II) toxicitási teszt", "fontSize": 17, "align": "left", "baseline": "middle", "color": "black"},
   "encoding": {"x": {"datum": 562, "type": "quantitative", "axis": null}, "y": {"datum": 4.7, "type": "quantitative", "axis": null}}},
  {"data": {"values": [{}]}, "mark": {"type": "text", "text": "Hg(II) + aerogél", "fontSize": 17, "align": "left", "baseline": "middle", "color": "black"},
   "encoding": {"x": {"datum": 562, "type": "quantitative", "axis": null}, "y": {"datum": 4.36, "type": "quantitative", "axis": null}}},
  {"data": {"values": [{}]}, "mark": {"type": "text", "text": "c", "fontSize": 19, "fontWeight": "bold", "fontStyle": "italic", "align": "left", "baseline": "alphabetic", "color": "#000000"},
   "encoding": {"x": {"datum": 503, "type": "quantitative", "axis": null}, "y": {"datum": 3.68, "type": "quantitative", "axis": null}}},
  {"data": {"values": [{}]}, "mark": {"type": "text", "text": "Hg(II)", "fontSize": 15.5, "fontWeight": "bold", "align": "left", "baseline": "alphabetic", "dx": 11, "dy": 7, "color": "#000000"},
   "encoding": {"x": {"datum": 503, "type": "quantitative", "axis": null}, "y": {"datum": 3.68, "type": "quantitative", "axis": null}}},
  {"data": {"values": [{}]}, "mark": {"type": "text", "text": "= 125 μg/l", "fontSize": 19, "fontWeight": "bold", "align": "left", "baseline": "alphabetic", "dx": 55, "color": "#000000"},
   "encoding": {"x": {"datum": 503, "type": "quantitative", "axis": null}, "y": {"datum": 3.68, "type": "quantitative", "axis": null}}},
  {"data": {"values": [{}]}, "mark": {"type": "point", "opacity": 0},
   "encoding": {"x": {"datum": 0, "type": "quantitative", "axis": {"orient": "top", "values": [0,200,400,600,800,1000], "labels": false, "tickSize": -4, "title": null}}, "y": {"datum": 0, "type": "quantitative", "axis": {"orient": "right", "values": [0,0.5,1,1.5,2,2.5,3,3.5,4,4.5,5], "labels": false, "tickSize": -4, "title": null}}}}
 ]
},
{
 "width": 383, "height": 322,
 "resolve": {"axis": {"x": "independent", "y": "independent"}},
 "layer": [
  {"data": {"name": "B"}, "mark": {"type": "line", "strokeWidth": 1.5},
   "encoding": {
    "x": {"field": "t", "type": "quantitative", "scale": {"domain": [0, 1000], "nice": false, "zero": false}, "axis": {"values": [0,200,400,600,800,1000], "labelExpr": "datum.value % 400 === 0 ? format(datum.value, 'd') : ''", "tickSize": {"condition": {"test": "datum.value % 400 === 0", "value": 6}, "value": 3}, "title": "t (min)"}},
    "y": {"field": "v", "type": "quantitative", "scale": {"domain": [0, 5], "nice": false}, "axis": {"values": [0,0.5,1,1.5,2,2.5,3,3.5,4,4.5,5], "labelExpr": "datum.value % 1 === 0 ? format(datum.value, 'd') : ''", "tickSize": {"condition": {"test": "datum.value % 1 === 0", "value": 6}, "value": 3}, "title": "pixelkülönbség (relatív skála)"}},
    "color": {"field": "s", "type": "nominal", "scale": {"domain": ["a", "b"], "range": ["#0000FF", "#FF8C00"]}, "legend": null}
   }},
  {"data": {"values": [{"t": 324, "v": 3.1, "g": "k"}, {"t": 892, "v": 0, "g": "k"}, {"t": 110, "v": 1.65, "g": "r"}, {"t": 1000, "v": 1.21, "g": "r"}]},
   "mark": {"type": "line", "strokeWidth": 2},
   "encoding": {"x": {"field": "t", "type": "quantitative", "axis": null}, "y": {"field": "v", "type": "quantitative", "axis": null}, "detail": {"field": "g"}, "color": {"condition": {"test": "datum.g === 'k'", "value": "#000000"}, "value": "#FF1A1A"}}},
  {"data": {"values": [{"t": 110, "g": "r"}, {"t": 324, "g": "k"}]},
   "mark": {"type": "rule", "strokeDash": [2, 2], "strokeWidth": 2},
   "encoding": {"x": {"field": "t", "type": "quantitative", "axis": null}, "color": {"condition": {"test": "datum.g === 'k'", "value": "#000000"}, "value": "#FF0000"}}},
  {"data": {"values": [{}]}, "mark": {"type": "rect", "fill": "white", "stroke": "#555555", "strokeWidth": 1},
   "encoding": {"x": {"datum": 155, "type": "quantitative", "axis": null}, "x2": {"datum": 246}, "y": {"datum": 4.18, "type": "quantitative", "axis": null}, "y2": {"datum": 4.88}}},
  {"data": {"values": [{}]}, "mark": {"type": "text", "text": "B", "fontSize": 32, "fontWeight": "bold", "align": "center", "baseline": "middle", "dy": 2, "color": "black"},
   "encoding": {"x": {"datum": 200.5, "type": "quantitative", "axis": null}, "y": {"datum": 4.53, "type": "quantitative", "axis": null}}},
  {"data": {"values": [{}]}, "mark": {"type": "rule", "strokeWidth": 1.5, "color": "#0000FF"},
   "encoding": {"x": {"datum": 452, "type": "quantitative", "axis": null}, "x2": {"datum": 556}, "y": {"datum": 4.7, "type": "quantitative", "axis": null}}},
  {"data": {"values": [{}]}, "mark": {"type": "rule", "strokeWidth": 1.5, "color": "#FF8C00"},
   "encoding": {"x": {"datum": 452, "type": "quantitative", "axis": null}, "x2": {"datum": 556}, "y": {"datum": 4.36, "type": "quantitative", "axis": null}}},
  {"data": {"values": [{}]}, "mark": {"type": "text", "text": "Hg(II) toxicitási teszt", "fontSize": 17, "align": "left", "baseline": "middle", "color": "black"},
   "encoding": {"x": {"datum": 564, "type": "quantitative", "axis": null}, "y": {"datum": 4.7, "type": "quantitative", "axis": null}}},
  {"data": {"values": [{}]}, "mark": {"type": "text", "text": "Hg(II) + aerogél", "fontSize": 17, "align": "left", "baseline": "middle", "color": "black"},
   "encoding": {"x": {"datum": 564, "type": "quantitative", "axis": null}, "y": {"datum": 4.36, "type": "quantitative", "axis": null}}},
  {"data": {"values": [{}]}, "mark": {"type": "text", "text": "c", "fontSize": 19, "fontWeight": "bold", "fontStyle": "italic", "align": "left", "baseline": "alphabetic", "color": "#0000FF"},
   "encoding": {"x": {"datum": 513, "type": "quantitative", "axis": null}, "y": {"datum": 3.68, "type": "quantitative", "axis": null}}},
  {"data": {"values": [{}]}, "mark": {"type": "text", "text": "Hg(II)", "fontSize": 15.5, "fontWeight": "bold", "align": "left", "baseline": "alphabetic", "dx": 11, "dy": 7, "color": "#0000FF"},
   "encoding": {"x": {"datum": 513, "type": "quantitative", "axis": null}, "y": {"datum": 3.68, "type": "quantitative", "axis": null}}},
  {"data": {"values": [{}]}, "mark": {"type": "text", "text": "= 500 μg/l", "fontSize": 19, "fontWeight": "bold", "align": "left", "baseline": "alphabetic", "dx": 53, "color": "#0000FF"},
   "encoding": {"x": {"datum": 513, "type": "quantitative", "axis": null}, "y": {"datum": 3.68, "type": "quantitative", "axis": null}}},
  {"data": {"values": [{}]}, "mark": {"type": "point", "opacity": 0},
   "encoding": {"x": {"datum": 0, "type": "quantitative", "axis": {"orient": "top", "values": [0,200,400,600,800,1000], "labels": false, "tickSize": -4, "title": null}}, "y": {"datum": 0, "type": "quantitative", "axis": {"orient": "right", "values": [0,0.5,1,1.5,2,2.5,3,3.5,4,4.5,5], "labels": false, "tickSize": -4, "title": null}}}}
 ]
},
{
 "width": 382, "height": 320,
 "resolve": {"axis": {"x": "independent", "y": "independent"}},
 "layer": [
  {"data": {"name": "C"}, "mark": {"type": "line", "strokeWidth": 1.5},
   "encoding": {
    "x": {"field": "t", "type": "quantitative", "scale": {"domain": [0, 500], "nice": false, "zero": false}, "axis": {"values": [0,50,100,150,200,250,300,350,400,450,500], "labelExpr": "datum.value % 100 === 0 ? format(datum.value, 'd') : ''", "tickSize": {"condition": {"test": "datum.value % 100 === 0", "value": 6}, "value": 3}, "title": "t (min)"}},
    "y": {"field": "v", "type": "quantitative", "scale": {"domain": [0, 5], "nice": false}, "axis": {"values": [0,0.5,1,1.5,2,2.5,3,3.5,4,4.5,5], "labelExpr": "datum.value % 1 === 0 ? format(datum.value, 'd') : ''", "tickSize": {"condition": {"test": "datum.value % 1 === 0", "value": 6}, "value": 3}, "title": "pixelkülönbség (relatív skála)"}},
    "color": {"field": "s", "type": "nominal", "scale": {"domain": ["a", "b"], "range": ["#FF00FF", "#FF8C00"]}, "legend": null}
   }},
  {"data": {"values": [{"t": 25, "v": 2.12, "g": "k"}, {"t": 84, "v": 0, "g": "k"}, {"t": 53, "v": 1.1, "g": "r"}, {"t": 500, "v": 0, "g": "r"}]},
   "mark": {"type": "line", "strokeWidth": 2},
   "encoding": {"x": {"field": "t", "type": "quantitative", "axis": null}, "y": {"field": "v", "type": "quantitative", "axis": null}, "detail": {"field": "g"}, "color": {"condition": {"test": "datum.g === 'k'", "value": "#000000"}, "value": "#FF1A1A"}}},
  {"data": {"values": [{"t": 25, "g": "k"}, {"t": 53, "g": "r"}]},
   "mark": {"type": "rule", "strokeDash": [2, 2], "strokeWidth": 2},
   "encoding": {"x": {"field": "t", "type": "quantitative", "axis": null}, "color": {"condition": {"test": "datum.g === 'k'", "value": "#000000"}, "value": "#FF0000"}}},
  {"data": {"values": [{}]}, "mark": {"type": "rect", "fill": "white", "stroke": "#555555", "strokeWidth": 1},
   "encoding": {"x": {"datum": 78.5, "type": "quantitative", "axis": null}, "x2": {"datum": 126}, "y": {"datum": 4.17, "type": "quantitative", "axis": null}, "y2": {"datum": 4.87}}},
  {"data": {"values": [{}]}, "mark": {"type": "text", "text": "C", "fontSize": 32, "fontWeight": "bold", "align": "center", "baseline": "middle", "dy": 2, "color": "black"},
   "encoding": {"x": {"datum": 102.3, "type": "quantitative", "axis": null}, "y": {"datum": 4.52, "type": "quantitative", "axis": null}}},
  {"data": {"values": [{}]}, "mark": {"type": "rule", "strokeWidth": 1.5, "color": "#FF00FF"},
   "encoding": {"x": {"datum": 212, "type": "quantitative", "axis": null}, "x2": {"datum": 262}, "y": {"datum": 4.68, "type": "quantitative", "axis": null}}},
  {"data": {"values": [{}]}, "mark": {"type": "rule", "strokeWidth": 1.5, "color": "#FF8C00"},
   "encoding": {"x": {"datum": 212, "type": "quantitative", "axis": null}, "x2": {"datum": 262}, "y": {"datum": 4.32, "type": "quantitative", "axis": null}}},
  {"data": {"values": [{}]}, "mark": {"type": "text", "text": "Hg(II) toxicitási teszt", "fontSize": 17, "align": "left", "baseline": "middle", "color": "black"},
   "encoding": {"x": {"datum": 267, "type": "quantitative", "axis": null}, "y": {"datum": 4.68, "type": "quantitative", "axis": null}}},
  {"data": {"values": [{}]}, "mark": {"type": "text", "text": "Hg(II) + aerogél", "fontSize": 17, "align": "left", "baseline": "middle", "color": "black"},
   "encoding": {"x": {"datum": 267, "type": "quantitative", "axis": null}, "y": {"datum": 4.32, "type": "quantitative", "axis": null}}},
  {"data": {"values": [{}]}, "mark": {"type": "text", "text": "c", "fontSize": 19, "fontWeight": "bold", "fontStyle": "italic", "align": "left", "baseline": "alphabetic", "color": "#FF00FF"},
   "encoding": {"x": {"datum": 251, "type": "quantitative", "axis": null}, "y": {"datum": 3.67, "type": "quantitative", "axis": null}}},
  {"data": {"values": [{}]}, "mark": {"type": "text", "text": "Hg(II)", "fontSize": 15.5, "fontWeight": "bold", "align": "left", "baseline": "alphabetic", "dx": 11, "dy": 7, "color": "#FF00FF"},
   "encoding": {"x": {"datum": 251, "type": "quantitative", "axis": null}, "y": {"datum": 3.67, "type": "quantitative", "axis": null}}},
  {"data": {"values": [{}]}, "mark": {"type": "text", "text": "= 750 μg/l", "fontSize": 19, "fontWeight": "bold", "align": "left", "baseline": "alphabetic", "dx": 55, "color": "#FF00FF"},
   "encoding": {"x": {"datum": 251, "type": "quantitative", "axis": null}, "y": {"datum": 3.67, "type": "quantitative", "axis": null}}},
  {"data": {"values": [{}]}, "mark": {"type": "point", "opacity": 0},
   "encoding": {"x": {"datum": 0, "type": "quantitative", "axis": {"orient": "top", "values": [0,50,100,150,200,250,300,350,400,450,500], "labels": false, "tickSize": -4, "title": null}}, "y": {"datum": 0, "type": "quantitative", "axis": {"orient": "right", "values": [0,0.5,1,1.5,2,2.5,3,3.5,4,4.5,5], "labels": false, "tickSize": -4, "title": null}}}}
 ]
},
{
 "width": 383, "height": 320,
 "resolve": {"axis": {"x": "independent", "y": "independent"}},
 "layer": [
  {"data": {"name": "D"}, "mark": {"type": "line", "strokeWidth": 1.5},
   "encoding": {
    "x": {"field": "t", "type": "quantitative", "scale": {"domain": [0, 500], "nice": false, "zero": false}, "axis": {"values": [0,50,100,150,200,250,300,350,400,450,500], "labelExpr": "datum.value % 100 === 0 ? format(datum.value, 'd') : ''", "tickSize": {"condition": {"test": "datum.value % 100 === 0", "value": 6}, "value": 3}, "title": "t (min)"}},
    "y": {"field": "v", "type": "quantitative", "scale": {"domain": [0, 5], "nice": false}, "axis": {"values": [0,0.5,1,1.5,2,2.5,3,3.5,4,4.5,5], "labelExpr": "datum.value % 1 === 0 ? format(datum.value, 'd') : ''", "tickSize": {"condition": {"test": "datum.value % 1 === 0", "value": 6}, "value": 3}, "title": "pixelkülönbség (relatív skála)"}},
    "color": {"field": "s", "type": "nominal", "scale": {"domain": ["a", "b"], "range": ["#118811", "#FF8C00"]}, "legend": null}
   }},
  {"data": {"values": [{"t": 29, "v": 2.7, "g": "k"}, {"t": 78, "v": 0, "g": "k"}, {"t": 77, "v": 1.09, "g": "r"}, {"t": 282, "v": 0, "g": "r"}]},
   "mark": {"type": "line", "strokeWidth": 2},
   "encoding": {"x": {"field": "t", "type": "quantitative", "axis": null}, "y": {"field": "v", "type": "quantitative", "axis": null}, "detail": {"field": "g"}, "color": {"condition": {"test": "datum.g === 'k'", "value": "#000000"}, "value": "#FF1A1A"}}},
  {"data": {"values": [{"t": 29, "g": "k"}, {"t": 77, "g": "r"}]},
   "mark": {"type": "rule", "strokeDash": [2, 2], "strokeWidth": 2},
   "encoding": {"x": {"field": "t", "type": "quantitative", "axis": null}, "color": {"condition": {"test": "datum.g === 'k'", "value": "#000000"}, "value": "#FF0000"}}},
  {"data": {"values": [{}]}, "mark": {"type": "rect", "fill": "white", "stroke": "#555555", "strokeWidth": 1},
   "encoding": {"x": {"datum": 98, "type": "quantitative", "axis": null}, "x2": {"datum": 145}, "y": {"datum": 4.17, "type": "quantitative", "axis": null}, "y2": {"datum": 4.87}}},
  {"data": {"values": [{}]}, "mark": {"type": "text", "text": "D", "fontSize": 32, "fontWeight": "bold", "align": "center", "baseline": "middle", "dy": 2, "color": "black"},
   "encoding": {"x": {"datum": 121.5, "type": "quantitative", "axis": null}, "y": {"datum": 4.52, "type": "quantitative", "axis": null}}},
  {"data": {"values": [{}]}, "mark": {"type": "rule", "strokeWidth": 1.5, "color": "#118811"},
   "encoding": {"x": {"datum": 213, "type": "quantitative", "axis": null}, "x2": {"datum": 265}, "y": {"datum": 4.68, "type": "quantitative", "axis": null}}},
  {"data": {"values": [{}]}, "mark": {"type": "rule", "strokeWidth": 1.5, "color": "#FF8C00"},
   "encoding": {"x": {"datum": 213, "type": "quantitative", "axis": null}, "x2": {"datum": 265}, "y": {"datum": 4.32, "type": "quantitative", "axis": null}}},
  {"data": {"values": [{}]}, "mark": {"type": "text", "text": "Hg(II) toxicitási teszt", "fontSize": 17, "align": "left", "baseline": "middle", "color": "black"},
   "encoding": {"x": {"datum": 269, "type": "quantitative", "axis": null}, "y": {"datum": 4.68, "type": "quantitative", "axis": null}}},
  {"data": {"values": [{}]}, "mark": {"type": "text", "text": "Hg(II) + aerogél", "fontSize": 17, "align": "left", "baseline": "middle", "color": "black"},
   "encoding": {"x": {"datum": 269, "type": "quantitative", "axis": null}, "y": {"datum": 4.32, "type": "quantitative", "axis": null}}},
  {"data": {"values": [{}]}, "mark": {"type": "text", "text": "c", "fontSize": 19, "fontWeight": "bold", "fontStyle": "italic", "align": "left", "baseline": "alphabetic", "color": "#118811"},
   "encoding": {"x": {"datum": 236, "type": "quantitative", "axis": null}, "y": {"datum": 3.67, "type": "quantitative", "axis": null}}},
  {"data": {"values": [{}]}, "mark": {"type": "text", "text": "Hg(II)", "fontSize": 15.5, "fontWeight": "bold", "align": "left", "baseline": "alphabetic", "dx": 11, "dy": 7, "color": "#118811"},
   "encoding": {"x": {"datum": 236, "type": "quantitative", "axis": null}, "y": {"datum": 3.67, "type": "quantitative", "axis": null}}},
  {"data": {"values": [{}]}, "mark": {"type": "text", "text": "= 1000 μg/l", "fontSize": 19, "fontWeight": "bold", "align": "left", "baseline": "alphabetic", "dx": 55, "color": "#118811"},
   "encoding": {"x": {"datum": 236, "type": "quantitative", "axis": null}, "y": {"datum": 3.67, "type": "quantitative", "axis": null}}},
  {"data": {"values": [{}]}, "mark": {"type": "point", "opacity": 0},
   "encoding": {"x": {"datum": 0, "type": "quantitative", "axis": {"orient": "top", "values": [0,50,100,150,200,250,300,350,400,450,500], "labels": false, "tickSize": -4, "title": null}}, "y": {"datum": 0, "type": "quantitative", "axis": {"orient": "right", "values": [0,0.5,1,1.5,2,2.5,3,3.5,4,4.5,5], "labels": false, "tickSize": -4, "title": null}}}}
 ]
}
]
}
